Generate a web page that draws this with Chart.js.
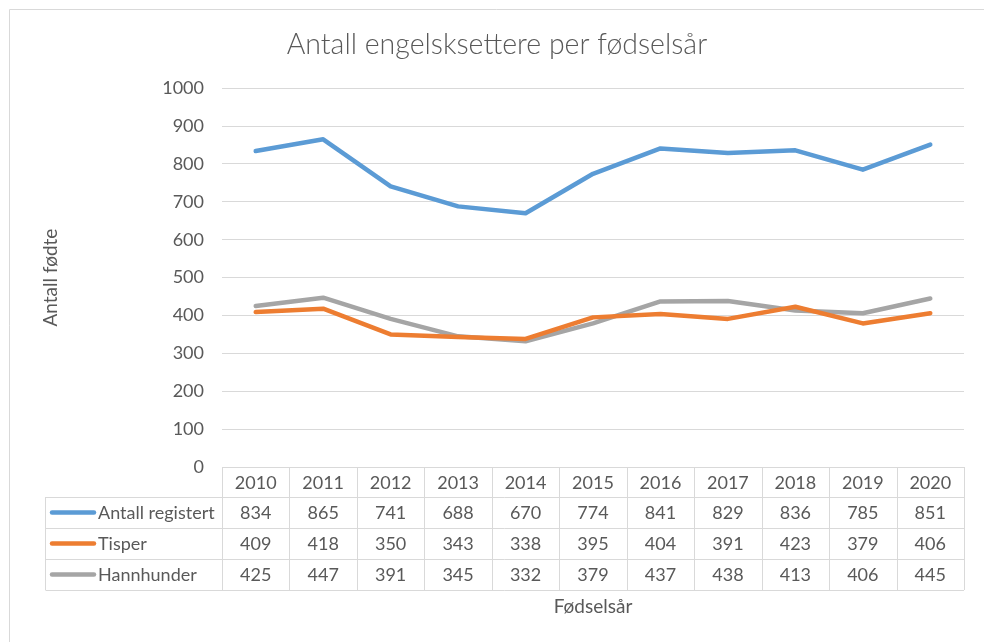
<!DOCTYPE html>
<html>
<head>
<meta charset="utf-8">
<script src="https://cdn.jsdelivr.net/npm/chart.js@4/dist/chart.umd.min.js"></script>
<style>
  html, body { margin: 0; padding: 0; background: #fff; }
  #wrap { width: 984px; height: 642px; position: relative; }
</style>
</head>
<body>
<div id="wrap"><canvas id="chartContainer"></canvas></div>
<script>
"use strict";

// 1: data
const years = ['2010', '2011', '2012', '2013', '2014', '2015', '2016', '2017', '2018', '2019', '2020'];
const registered = [834, 865, 741, 688, 670, 774, 841, 829, 836, 785, 851];
const bitches = [409, 418, 350, 343, 338, 395, 404, 391, 423, 379, 406];
const males = [425, 447, 391, 345, 332, 379, 437, 438, 413, 406, 445];
const seriesNames = ['Antall registert', 'Tisper', 'Hannhunder'];
const seriesColors = ['#5b9bd5', '#ed7d31', '#a5a5a5'];
const yTicks = [0, 100, 200, 300, 400, 500, 600, 700, 800, 900, 1000];

const textColor = '#595959';
const lineColor = '#d9d9d9';
const fontFamily = 'Lato, "Open Sans", sans-serif';

// 2: plugins - outer frame and the data table under the plot
const framePlugin = {
  id: 'frame',
  beforeDraw(chart) {
    const ctx = chart.ctx;
    ctx.save();
    ctx.strokeStyle = lineColor;
    ctx.lineWidth = 1;
    ctx.beginPath();
    ctx.moveTo(9.5, chart.height);
    ctx.lineTo(9.5, 9.5);
    ctx.lineTo(chart.width, 9.5);
    ctx.stroke();
    ctx.restore();
  }
};

const tablePlugin = {
  id: 'dataTable',
  afterDraw(chart) {
    const ctx = chart.ctx;
    const x = chart.scales.x;
    const area = chart.chartArea;
    const n = chart.data.labels.length;
    const colW = (area.right - area.left) / n;
    const top = area.bottom;
    const headH = 30;
    const rowH = 31;
    const legendLeft = 45.5;
    const bottom = top + headH + rowH * chart.data.datasets.length;

    ctx.save();
    ctx.strokeStyle = lineColor;
    ctx.lineWidth = 1;
    ctx.beginPath();
    // vertical lines of the year columns
    for (let i = 0; i <= n; i++) {
      const px = Math.round(area.left + i * colW) + 0.5;
      ctx.moveTo(px, top);
      ctx.lineTo(px, bottom);
    }
    // legend column left edge
    ctx.moveTo(legendLeft, top + headH);
    ctx.lineTo(legendLeft, bottom);
    // horizontal lines
    for (let r = 0; r <= chart.data.datasets.length; r++) {
      const py = Math.round(top + headH + r * rowH) + 0.5;
      ctx.moveTo(legendLeft, py);
      ctx.lineTo(area.right, py);
    }
    ctx.stroke();

    ctx.fillStyle = textColor;
    ctx.font = '18px ' + fontFamily;
    ctx.textAlign = 'center';
    ctx.textBaseline = 'middle';
    chart.data.labels.forEach((lab, i) => {
      ctx.fillText(lab, x.getPixelForValue(i), top + headH / 2 + 1);
    });

    chart.data.datasets.forEach((ds, r) => {
      const cy = top + headH + r * rowH + rowH / 2 + 1;
      ctx.textAlign = 'center';
      ds.data.forEach((v, i) => {
        ctx.fillText(String(v), x.getPixelForValue(i), cy);
      });
      // legend key
      ctx.strokeStyle = ds.borderColor;
      ctx.lineWidth = 4.5;
      ctx.lineCap = 'round';
      ctx.beginPath();
      ctx.moveTo(52, cy - 1);
      ctx.lineTo(94, cy - 1);
      ctx.stroke();
      ctx.textAlign = 'left';
      ctx.fillText(ds.label, 98, cy);
    });
    ctx.restore();
  }
};

// 3: create the chart
function appendChart() {
  const chartContainer = document.getElementById('chartContainer');
  const data = [registered, bitches, males];
  new Chart(chartContainer, {
    type: 'line',
    data: {
      labels: years,
      datasets: data.map((values, i) => ({
        label: seriesNames[i],
        data: values,
        borderColor: seriesColors[i],
        backgroundColor: seriesColors[i],
        borderWidth: 4.5,
        pointRadius: 0,
        borderJoinStyle: 'round',
        borderCapStyle: 'round',
        tension: 0
      }))
    },
    options: {
      responsive: true,
      maintainAspectRatio: false,
      animation: false,
      layout: { padding: { left: 30, right: 20, top: 0, bottom: 0 } },
      plugins: {
        legend: { display: false },
        tooltip: { enabled: false },
        title: {
          display: true,
          text: 'Antall engelsksettere per fødselsår',
          color: textColor,
          font: { family: fontFamily, size: 28.5, weight: '300' },
          padding: { top: 28, bottom: 26 }
        }
      },
      scales: {
        x: {
          offset: true,
          grid: { display: false },
          border: { display: false },
          ticks: { display: false },
          title: {
            display: true,
            text: 'Fødselsår',
            color: textColor,
            font: { family: fontFamily, size: 19 },
            padding: { top: 0, bottom: 24 }
          },
          afterFit(scale) { scale.height = 175; }
        },
        y: {
          min: 0,
          max: 1000,
          afterBuildTicks(scale) { scale.ticks = yTicks.map(v => ({ value: v })); },
          grid: { color: lineColor, lineWidth: 1, drawTicks: false },
          border: { display: false },
          ticks: {
            color: textColor,
            font: { family: fontFamily, size: 18 },
            padding: 18,
            callback: (v) => String(v)
          },
          title: {
            display: true,
            text: 'Antall fødte',
            color: textColor,
            font: { family: fontFamily, size: 19 },
            padding: { top: 9, bottom: 0 }
          },
          afterFit(scale) { scale.width = 192; }
        }
      }
    },
    plugins: [framePlugin, tablePlugin]
  });
}

appendChart();
</script>
</body>
</html>
